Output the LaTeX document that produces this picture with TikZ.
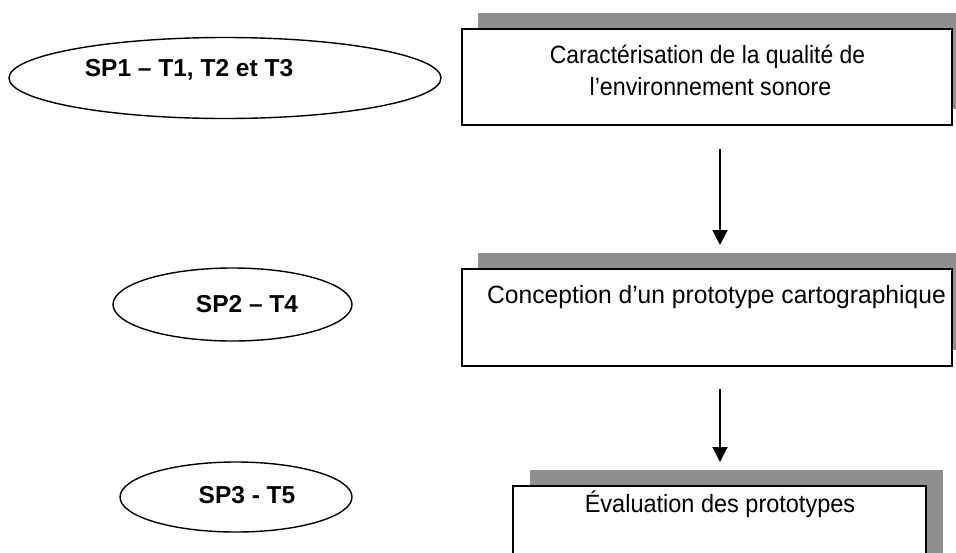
\documentclass[tikz,border=0pt]{standalone}
\usepackage{graphicx}
\usepackage{fontspec}
\setmainfont{Liberation Sans}
\usetikzlibrary{arrows.meta,shapes.geometric}
\tikzset{
  boxshape/.style={draw=black, line width=2pt, fill=white, minimum width=490pt, inner sep=0pt},
  shadowshape/.style={fill=black!44, draw=none, inner sep=0pt},
  ovalshape/.style={ellipse, draw=black, line width=1.4pt, inner sep=0pt},
  boxtext/.style={font=\fontsize{25}{30}\selectfont, anchor=base, inner sep=0pt},
  ovaltext/.style={font=\bfseries\fontsize{24.5}{30}\selectfont, anchor=base, inner sep=0pt},
  flow/.style={line width=2pt, -{Triangle[width=15pt,length=15pt]}}
}
\begin{document}
\begin{tikzpicture}[x=1pt,y=-1pt]
\useasboundingbox (0,0) rectangle (956,552);
\clip (0,0) rectangle (956,552);
% shadows
\node[shadowshape, minimum width=490pt, minimum height=96pt] (s1) at (723,61) {};
\node[shadowshape, minimum width=490pt, minimum height=97pt] (s2) at (723,301.5) {};
\node[shadowshape, minimum width=413pt, minimum height=100pt] (s3) at (736.5,520) {};
% boxes
\node[boxshape, minimum height=96pt] (b1) at (707,77) {};
\node[boxshape, minimum height=97pt] (b2) at (707,317.5) {};
\node[boxshape, minimum width=413pt, minimum height=100pt] (b3) at (719.5,536) {};
\node[boxtext] (t1a) at (707.5,63) {\scalebox{0.915}[1]{Caractérisation de la qualité de}};
\node[boxtext] (t1b) at (710.5,95) {\scalebox{0.93}[1]{l’environnement sonore}};
\node[boxtext] (t2) at (716.5,303) {\scalebox{0.985}[1]{Conception d’un prototype cartographique}};
\node[boxtext] (t3) at (720,512) {\scalebox{0.94}[1]{Évaluation des prototypes}};
% ovals
\node[ovalshape, minimum width=432pt, minimum height=81pt] (e1) at (225,78) {};
\node[ovalshape, minimum width=239pt, minimum height=73pt] (e2) at (232.5,304.5) {};
\node[ovalshape, minimum width=232pt, minimum height=70pt] (e3) at (236,497) {};
\node[ovaltext] (o1) at (189,76) {SP1 – T1, T2 et T3};
\node[ovaltext] (o2) at (247,312) {SP2 – T4};
\node[ovaltext] (o3) at (247,503) {SP3 - T5};
% arrows
\coordinate (a1s) at (720,149);
\coordinate (a1e) at (720,245);
\coordinate (a2s) at (720,389);
\coordinate (a2e) at (720,462);
\draw[flow] (a1s) -- (a1e);
\draw[flow] (a2s) -- (a2e);
\end{tikzpicture}
\end{document}
